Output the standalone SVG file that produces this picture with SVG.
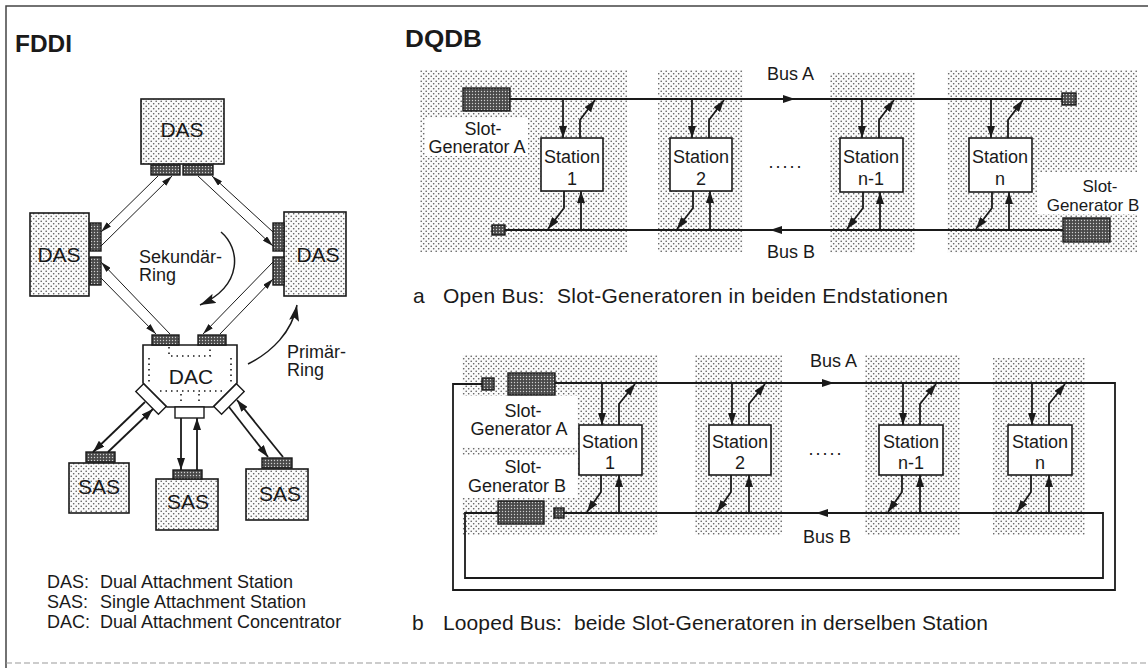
<svg xmlns="http://www.w3.org/2000/svg" width="1148" height="668" viewBox="0 0 1148 668">
<style>
text{font-family:"Liberation Sans",Arial,Helvetica,sans-serif;fill:#1a1a1a}
.t18{font-size:18px}
.t17{font-size:17px}
.t21{font-size:21px}
.title{font-size:23px;font-weight:bold}
.box{fill:url(#dots);stroke:#1a1a1a;stroke-width:1.6}
.port{fill:url(#hatch);stroke:#1a1a1a;stroke-width:1.4}
.wport{fill:#fff;stroke:#1a1a1a;stroke-width:1.4}
.st{fill:#fff;stroke:#1a1a1a;stroke-width:1.6}
.reg{fill:url(#dots)}
.wh{fill:#fff}
.thin{fill:none;stroke:#1a1a1a;stroke-width:1}
.bold{fill:none;stroke:#1a1a1a;stroke-width:1.8}
.bus{fill:none;stroke:#1a1a1a;stroke-width:1.8}
.dot{fill:none;stroke:#1a1a1a;stroke-width:1.6;stroke-dasharray:1.5 4}
.a1{marker-end:url(#ah)}
.a2{marker-end:url(#ah2)}
.a3{marker-end:url(#ah3)}
</style>
<defs>
<pattern id="dots" width="5" height="5" patternUnits="userSpaceOnUse">
<rect width="5" height="5" fill="#fbfbfb"/>
<circle cx="1.2" cy="1.2" r="0.8" fill="#555"/>
<circle cx="3.7" cy="3.7" r="0.8" fill="#555"/>
</pattern>
<pattern id="hatch" width="3" height="3" patternUnits="userSpaceOnUse">
<rect width="3" height="3" fill="#4a4a4a"/>
<circle cx="1.5" cy="1.5" r="0.7" fill="#d0d0d0"/>
</pattern>
<marker id="ah" markerUnits="userSpaceOnUse" markerWidth="11" markerHeight="6" refX="11" refY="3" orient="auto">
<path d="M0,0 L11,3 L0,6 z" fill="#1a1a1a"/>
</marker>
<marker id="ah2" markerUnits="userSpaceOnUse" markerWidth="12" markerHeight="8" refX="12" refY="4" orient="auto">
<path d="M0,0 L12,4 L0,8 z" fill="#1a1a1a"/>
</marker>
<marker id="ah3" markerUnits="userSpaceOnUse" markerWidth="16" markerHeight="10" refX="16" refY="5" orient="auto">
<path d="M0,0 L16,5 L0,10 L3,5 z" fill="#1a1a1a"/>
</marker>
</defs>

<rect x="0" y="0" width="1148" height="668" fill="#fff"/>
<g id="frame">
<path d="M1148,6 H6 V668" fill="none" stroke="#444" stroke-width="1.5"/>
<path d="M6,663 H1148" fill="none" stroke="#999" stroke-width="1" stroke-dasharray="6 3"/>
</g>

<!-- FDDI -->
<text class="title" x="15" y="52" textLength="57" lengthAdjust="spacingAndGlyphs">FDDI</text>

<g id="das-top">
<rect class="box" x="141" y="99" width="83" height="65"/>
<rect class="port" x="151" y="165" width="29" height="10"/>
<rect class="port" x="183" y="165" width="30" height="10"/>
<text class="t21" x="182" y="137" text-anchor="middle">DAS</text>
</g>
<g id="das-left">
<rect class="box" x="30" y="213" width="59" height="83"/>
<rect class="port" x="90" y="223" width="11" height="28"/>
<rect class="port" x="90" y="257" width="11" height="28"/>
<text class="t21" x="59" y="262" text-anchor="middle">DAS</text>
</g>
<g id="das-right">
<rect class="box" x="284" y="212" width="62" height="84"/>
<rect class="port" x="273" y="223" width="11" height="28"/>
<rect class="port" x="273" y="257" width="11" height="28"/>
<text class="t21" x="318" y="262" text-anchor="middle">DAS</text>
</g>
<g id="dac">
<path class="st" d="M143,345 H237 V383 L213,407 H167 L143,383 Z"/>
<rect class="port" x="152" y="335" width="27" height="10"/>
<rect class="port" x="198" y="335" width="28" height="10"/>
<rect class="wport" x="175" y="407" width="29" height="11"/>
<rect class="wport" x="-16" y="-5.5" width="32" height="11" transform="translate(151,399) rotate(45)"/>
<rect class="wport" x="-16" y="-5.5" width="32" height="11" transform="translate(229,399) rotate(-45)"/>
<path class="dot" d="M169,347 V356 H210 V347"/>
<path class="dot" d="M149,358 V382"/>
<path class="dot" d="M231,358 V382"/>
<path class="dot" d="M160,391 H222"/>
<path class="dot" d="M181,394 V405 M199,394 V405"/>
<text class="t21" x="191" y="384" text-anchor="middle">DAC</text>
</g>
<g id="sas-left">
<rect class="box" x="69" y="463" width="60" height="50"/>
<rect class="port" x="86" y="452" width="29" height="10"/>
<text class="t21" x="99" y="494" text-anchor="middle">SAS</text>
</g>
<g id="sas-mid">
<rect class="box" x="156" y="479" width="62" height="51"/>
<rect class="port" x="173" y="470" width="29" height="9"/>
<text class="t21" x="188" y="509" text-anchor="middle">SAS</text>
</g>
<g id="sas-right">
<rect class="box" x="246" y="469" width="62" height="51"/>
<rect class="port" x="262" y="458" width="30" height="10"/>
<text class="t21" x="280" y="501" text-anchor="middle">SAS</text>
</g>

<g id="fddi-labels">
<text class="t18" x="139" y="263">Sekundär-</text>
<text class="t18" x="139" y="281">Ring</text>
<text class="t18" x="287" y="358">Primär-</text>
<text class="t18" x="287" y="376">Ring</text>
<text class="t18" x="47" y="588">DAS:</text>
<text class="t18" x="100" y="588">Dual Attachment Station</text>
<text class="t18" x="47" y="608">SAS:</text>
<text class="t18" x="100" y="608">Single Attachment Station</text>
<text class="t18" x="47" y="628">DAC:</text>
<text class="t18" x="100" y="628">Dual Attachment Concentrator</text>
</g>

<g id="fddi-connectors">
<path class="thin a1" d="M158,176 L101,232"/>
<path class="thin a1" d="M101,246 L172,176"/>
<path class="thin a1" d="M273,232 L212,176"/>
<path class="thin a1" d="M198,176 L273,246"/>
<path class="thin a1" d="M170,334 L101,262"/>
<path class="thin a1" d="M101,278 L156,334"/>
<path class="thin a1" d="M273,262 L203,334"/>
<path class="thin a1" d="M220,334 L273,279"/>
<path class="bold a2" d="M145,402 L93,452"/>
<path class="bold a2" d="M108,452 L153,409"/>
<path class="bold a2" d="M181,418 V470"/>
<path class="bold a2" d="M197,470 V418"/>
<path class="bold a2" d="M229,407 L268,457"/>
<path class="bold a2" d="M283,457 L237,400"/>
<path class="thin a3" style="stroke-width:1.5" d="M221,232 C240,248 244,285 200,305"/>
<path class="thin a3" style="stroke-width:1.5" d="M248,364 C272,352 292,332 297,305"/>
</g>

<!-- DQDB -->
<text class="title" x="405" y="47" textLength="77" lengthAdjust="spacingAndGlyphs">DQDB</text>

<!-- a: open bus -->
<g id="a-regions">
<rect class="reg" x="420" y="70" width="207" height="182"/>
<rect class="reg" x="658" y="70" width="85" height="182"/>
<rect class="reg" x="830" y="72" width="85" height="181"/>
<rect class="reg" x="947" y="70" width="190" height="183"/>
<rect class="wh" x="425" y="118" width="103" height="38"/>
<rect class="wh" x="1037" y="172" width="100" height="42"/>
</g>
<g id="a-bus-connectors">
<path class="bus" d="M510,99 H1062"/>
<path class="bus a2" d="M782,99 H795"/>
<path class="bus" d="M505,230 H1063"/>
<path class="bus a2" d="M783,230 H770"/>
<path class="bold a2" d="M563,99 V138"/>
<path class="bold a2" d="M580,138 V120 L595,100"/>
<path class="bold a2" d="M564,191 V208 L548,229"/>
<path class="bold a2" d="M581,230 V191"/>
<path class="bold a2" d="M692,99 V138"/>
<path class="bold a2" d="M709,138 V120 L724,100"/>
<path class="bold a2" d="M693,191 V208 L677,229"/>
<path class="bold a2" d="M710,230 V191"/>
<path class="bold a2" d="M862,99 V138"/>
<path class="bold a2" d="M879,138 V120 L894,100"/>
<path class="bold a2" d="M863,192 V208 L847,229"/>
<path class="bold a2" d="M880,230 V192"/>
<path class="bold a2" d="M991,99 V138"/>
<path class="bold a2" d="M1008,138 V120 L1023,100"/>
<path class="bold a2" d="M992,192 V208 L976,229"/>
<path class="bold a2" d="M1009,230 V192"/>
</g>
<g id="a-slotgen-a">
<rect class="port" x="463" y="88" width="47" height="23"/>
<text class="t18" x="483" y="135" text-anchor="middle">Slot-</text>
<text class="t18" x="477" y="153" text-anchor="middle">Generator A</text>
</g>
<g id="a-term-a"><rect class="port" x="1062" y="93" width="14" height="12"/></g>
<g id="a-term-b"><rect class="port" x="492" y="225" width="13" height="10"/></g>
<g id="a-slotgen-b">
<rect class="port" x="1063" y="218" width="47" height="24"/>
<text class="t17" x="1100" y="192" text-anchor="middle">Slot-</text>
<text class="t17" x="1093" y="211" text-anchor="middle">Generator B</text>
</g>
<g id="a-st1"><rect class="st" x="541" y="138" width="62" height="53"/><text class="t18" x="572" y="163" text-anchor="middle">Station</text><text class="t18" x="572" y="185" text-anchor="middle">1</text></g>
<g id="a-st2"><rect class="st" x="670" y="138" width="62" height="53"/><text class="t18" x="701" y="163" text-anchor="middle">Station</text><text class="t18" x="701" y="185" text-anchor="middle">2</text></g>
<g id="a-stn1"><rect class="st" x="840" y="138" width="63" height="54"/><text class="t18" x="871" y="163" text-anchor="middle">Station</text><text class="t18" x="871" y="185" text-anchor="middle">n-1</text></g>
<g id="a-stn"><rect class="st" x="969" y="138" width="63" height="54"/><text class="t18" x="1000" y="163" text-anchor="middle">Station</text><text class="t18" x="1000" y="185" text-anchor="middle">n</text></g>
<g id="a-labels">
<text class="t18" x="786" y="168" text-anchor="middle" letter-spacing="2">.....</text>
<text class="t18" x="767" y="80">Bus A</text>
<text class="t18" x="767" y="258">Bus B</text>
<text class="t21" x="413" y="303">a</text>
<text class="t21" x="443" y="303" textLength="505" style="white-space:pre">Open Bus:  Slot-Generatoren in beiden Endstationen</text>
</g>

<!-- b: looped bus -->
<g id="b-regions">
<rect class="reg" x="462" y="355" width="196" height="180"/>
<rect class="reg" x="695" y="355" width="87" height="180"/>
<rect class="reg" x="865" y="355" width="95" height="180"/>
<rect class="reg" x="993" y="358" width="92" height="177"/>
<rect class="wh" x="462" y="396" width="115" height="51"/>
<rect class="wh" x="462" y="455" width="115" height="43"/>
</g>
<g id="b-bus-connectors">
<path class="bus" d="M482,384 H453 V590 H1115 V383 H555"/>
<path class="bus a2" d="M820,383 H834"/>
<path class="bus" d="M498,513 H465 V578 H1103 V513 H564"/>
<path class="bus a2" d="M830,513 H816"/>
<path class="bold a2" d="M602,383 V425"/>
<path class="bold a2" d="M619,425 V404 L635,384"/>
<path class="bold a2" d="M601,475 V492 L587,512"/>
<path class="bold a2" d="M619,513 V475"/>
<path class="bold a2" d="M732,383 V425"/>
<path class="bold a2" d="M749,425 V404 L765,384"/>
<path class="bold a2" d="M731,475 V492 L717,512"/>
<path class="bold a2" d="M749,513 V475"/>
<path class="bold a2" d="M903,383 V425"/>
<path class="bold a2" d="M920,425 V404 L936,384"/>
<path class="bold a2" d="M902,475 V492 L888,512"/>
<path class="bold a2" d="M920,513 V475"/>
<path class="bold a2" d="M1032,383 V425"/>
<path class="bold a2" d="M1049,425 V404 L1065,384"/>
<path class="bold a2" d="M1031,475 V492 L1017,512"/>
<path class="bold a2" d="M1049,513 V475"/>
</g>
<g id="b-term-a"><rect class="port" x="482" y="378" width="12" height="12"/></g>
<g id="b-slotgen-a">
<rect class="port" x="508" y="373" width="47" height="22"/>
<text class="t18" x="523" y="417" text-anchor="middle">Slot-</text>
<text class="t18" x="519" y="435" text-anchor="middle">Generator A</text>
</g>
<g id="b-slotgen-b">
<rect class="port" x="498" y="501" width="46" height="23"/>
<text class="t18" x="523" y="473" text-anchor="middle">Slot-</text>
<text class="t18" x="517" y="492" text-anchor="middle">Generator B</text>
</g>
<g id="b-term-b"><rect class="port" x="554" y="508" width="10" height="10"/></g>
<g id="b-st1"><rect class="st" x="579" y="425" width="63" height="50"/><text class="t18" x="610" y="448" text-anchor="middle">Station</text><text class="t18" x="610" y="469" text-anchor="middle">1</text></g>
<g id="b-st2"><rect class="st" x="709" y="425" width="62" height="50"/><text class="t18" x="740" y="448" text-anchor="middle">Station</text><text class="t18" x="740" y="469" text-anchor="middle">2</text></g>
<g id="b-stn1"><rect class="st" x="879" y="425" width="64" height="50"/><text class="t18" x="911" y="448" text-anchor="middle">Station</text><text class="t18" x="911" y="469" text-anchor="middle">n-1</text></g>
<g id="b-stn"><rect class="st" x="1008" y="425" width="64" height="50"/><text class="t18" x="1040" y="448" text-anchor="middle">Station</text><text class="t18" x="1040" y="469" text-anchor="middle">n</text></g>
<g id="b-labels">
<text class="t18" x="826" y="455" text-anchor="middle" letter-spacing="2">.....</text>
<text class="t18" x="810" y="367">Bus A</text>
<text class="t18" x="803" y="543">Bus B</text>
<text class="t21" x="412" y="630">b</text>
<text class="t21" x="443" y="630" textLength="545" style="white-space:pre">Looped Bus:  beide Slot-Generatoren in derselben Station</text>
</g>
</svg>
